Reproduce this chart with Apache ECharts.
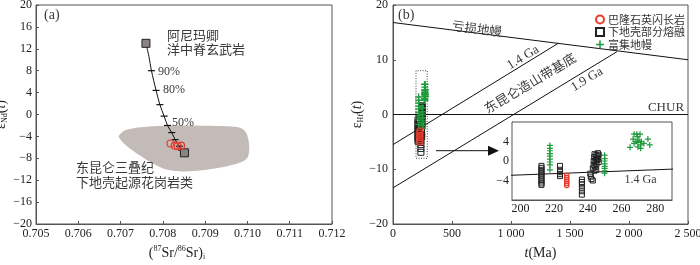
<!DOCTYPE html>
<html><head><meta charset="utf-8">
<script src="https://cdn.jsdelivr.net/npm/echarts@6/dist/echarts.min.js"></script>
<style>html,body{margin:0;padding:0;background:#fff}#c{width:700px;height:265px}</style>
</head><body><div id="c"></div>
<script>
// ---------- Panel (a): eNd(t) vs (87Sr/86Sr)i ----------
const blobSr = [0.70696,0.70714,0.70770,0.70848,0.70927,0.70975,0.70994,0.71002,0.71004,0.70998,0.70975,0.70919,0.70856,0.70817,0.70785,0.70746,0.70714,0.70699];
const blobNd = [-3.9,-2.8,-2.2,-2.0,-2.1,-2.3,-3.0,-4.5,-6.6,-8.1,-9.0,-9.9,-10.4,-10.2,-9.3,-7.5,-5.7,-4.5];
const endSr = [0.70760, 0.70851];
const endNd = [13.0, -7.0];
const mixSr = [0.70760,0.70767,0.70773,0.70784,0.70793,0.70803,0.70811,0.70821,0.70829,0.70839,0.70845,0.70851];
const mixNd = [13.0,10.6,8.0,4.4,1.8,-0.3,-2.0,-3.3,-4.6,-5.8,-6.5,-7.0];
const mixTick = [false,false,true,true,true,true,true,true,true,true,true,false];
const baSr = [0.70818,0.70828,0.70835,0.70843];
const baNd = [-5.3,-5.7,-5.8,-5.7];

// ---------- Panel (b): eHf(t) vs t(Ma) ----------
const dmT = [0,2500],   dmE = [16.8,10.0];
const churT = [0,2500], churE = [0,0];
const ga14T = [0,1400], ga14E = [-5.5,13.0];
const ga19T = [0,1900], ga19E = [-13.4,11.5];
const zoomT = [195,290], zoomE = [-8,8];
const insetTicks = [200,220,240,260,280];

// 巴隆石英闪长岩 (red circles)
const qdT = [227.5,227.5,227.5,227.5,227.5,227.5];
const qdE = [-3.0,-3.4,-3.8,-4.2,-4.6,-5.0];
// 下地壳部分熔融 (squares)
const lcT = [212.5,212.5,212.5,212.5,212.5,212.5,212.5,212.5,212.5,212.5,212.5,
             223.5,223.5,223.5,223.5,223.5,
             236.5,236.5,236.5,236.5,236.5,236.5,
             241.5,241.8,242.2,243,243,243.5,243.5,243.8,244,244.5,244.5,244.8,245,245.2,245.5,245.8,246,246.2,246.5,246.5,244,245];
const lcE = [-1.0,-1.4,-1.8,-2.2,-2.6,-3.0,-3.4,-3.8,-4.2,-4.6,-4.9,
             -1.0,-1.8,-2.3,-2.7,-3.1,
             -3.8,-4.3,-4.8,-5.5,-6.2,-6.9,
             -2.6,-3.2,-3.7,-4.0,-1.5,-0.8,0.0,0.8,-2.0,-1.2,-0.3,0.5,1.2,-0.6,0.2,1.0,1.6,0.4,-0.2,1.3,1.4,-1.8];
// 富集地幔 (green plus)
const emT = [217.5,217.5,217.5,217.5,217.5,217.5,217.5,217.5,217.5,
             250,250,250,250,250,250,250,250,
             265.1,267.5,269.1,270.4,268.5,269.8,271.4,273.3,275.7,276.8,267.5,269.8,271.8,269.5,271,266.9,271.4];
const emE = [3.2,2.6,2.1,1.5,1.0,0.4,-0.2,-0.8,-1.8,
             1.2,0.5,0.0,-0.6,-1.1,-1.5,-2.0,-2.5,
             2.8,5.5,5.5,4.3,4.0,2.9,2.6,3.6,4.5,3.3,3.6,3.8,4.0,5.0,5.5,4.5,3.3];

const zip = (a,b)=>a.map((v,i)=>[v,b[i]]);
const serif = 'Liberation Serif';
const cjk = 'Noto Sans CJK SC';
const plusPath = 'path://M4,0H6V4H10V6H6V10H4V6H0V4H4Z';
const minus = v => v < 0 ? '\u2212' + Math.abs(v) : String(v);

function axisBase(extra){
  return Object.assign({
    type:'value',
    axisLine:{show:true,onZero:false,lineStyle:{color:'#555',width:1}},
    axisTick:{show:true,inside:true,length:3,lineStyle:{color:'#555',width:1}},
    splitLine:{show:false},
    axisLabel:{color:'#222',fontFamily:serif,fontSize:12,margin:4}
  }, extra);
}
const richName = {
  g:{fontFamily:serif,fontSize:14,color:'#222',lineHeight:16},
  i:{fontFamily:serif,fontSize:14,fontStyle:'italic',color:'#222',lineHeight:16},
  sub:{fontFamily:serif,fontSize:8,color:'#222',lineHeight:9,verticalAlign:'bottom'},
  sup:{fontFamily:serif,fontSize:8,color:'#222',lineHeight:9,verticalAlign:'top'}
};

const chart = echarts.init(document.getElementById('c'), null, {renderer:'canvas'});

const txt = (x,y,text,fs,ff,rot,align) => ({type:'text',x:x,y:y,rotation:rot||0,z:100,silent:true,
  style:{text:text,fill:'#3a3a3a',fontFamily:ff,fontSize:fs,align:align||'left',verticalAlign:'middle'}});

const option = {
  animation:false,
  backgroundColor:'#fff',
  grid:[
    {left:36,top:5,width:296,height:219,show:true,borderColor:'#555',borderWidth:1,outerBoundsMode:'none'},
    {left:393,top:5,width:295,height:219,show:true,borderColor:'#555',borderWidth:1,outerBoundsMode:'none'},
    {left:512,top:122,width:160,height:78,show:true,borderColor:'#555',borderWidth:1,backgroundColor:'#fff',outerBoundsMode:'none',z:5}
  ],
  xAxis:[
    axisBase({gridIndex:0,min:0.705,max:0.712,interval:0.001,
      axisLabel:{color:'#222',fontFamily:serif,fontSize:12,margin:4,formatter:v=>v.toFixed(3)},
      name:'{g|(}{sup|87}{g|Sr/}{sup|86}{g|Sr)}{sub|i}',nameLocation:'middle',nameGap:21,nameTextStyle:{rich:richName,padding:[0,14,0,0]}}),
    axisBase({gridIndex:1,min:0,max:2500,interval:500,
      axisLabel:{color:'#222',fontFamily:serif,fontSize:12,margin:4,
        formatter:v=>v>=1000?(Math.floor(v/1000)+' '+String(v%1000).padStart(3,'0')):String(v)},
      name:'{i|t}{g|(Ma)}',nameLocation:'middle',nameGap:21,nameTextStyle:{rich:richName}}),
    axisBase({gridIndex:2,min:zoomT[0],max:zoomT[1],
      axisTick:{show:true,inside:true,length:3,lineStyle:{color:'#555'},customValues:insetTicks},
      axisLabel:{color:'#222',fontFamily:serif,fontSize:12,margin:3,customValues:insetTicks}})
  ],
  yAxis:[
    axisBase({gridIndex:0,min:-20,max:20,interval:4,
      axisLabel:{color:'#222',fontFamily:serif,fontSize:12,margin:4,formatter:minus},
      name:'{g|ε}{sub|Nd}{g|(}{i|t}{g|)}',nameLocation:'middle',nameGap:19,nameTextStyle:{rich:richName}}),
    axisBase({gridIndex:1,min:-20,max:20,interval:10,
      axisLabel:{color:'#222',fontFamily:serif,fontSize:12,margin:5,formatter:minus},
      name:'{g|ε}{sub|Hf}{g|(}{i|t}{g|)}',nameLocation:'middle',nameGap:22,nameTextStyle:{rich:richName}}),
    axisBase({gridIndex:2,min:zoomE[0],max:zoomE[1],interval:4,
      axisLabel:{color:'#222',fontFamily:serif,fontSize:12,margin:3,
        formatter:v=>(v===zoomE[0]||v===zoomE[1])?'':minus(v)}})
  ],
  legend:{
    orient:'vertical',left:590,top:9,itemWidth:8,itemHeight:8,itemGap:1.5,selectedMode:false,
    data:['巴隆石英闪长岩','下地壳部分熔融','富集地幔'],
    textStyle:{fontFamily:cjk,fontSize:11,color:'#333',padding:[0,0,0,-1]}
  },
  series:[
    // panel (a)
    {type:'custom',xAxisIndex:0,yAxisIndex:0,silent:true,z:1,data:[[0.708,0]],
      renderItem:(p,api)=>({type:'polygon',
        shape:{points:blobSr.map((x,i)=>api.coord([x,blobNd[i]])),smooth:0.35},
        style:{fill:'#c3bbb7',stroke:'none'}})},
    {type:'line',xAxisIndex:0,yAxisIndex:0,smooth:0.3,silent:true,z:3,
      data:zip(mixSr,mixNd).map((d,i)=>({value:d,symbol:mixTick[i]?'rect':'none'})),
      symbolSize:[7,1.2],showAllSymbol:true,
      lineStyle:{color:'#111',width:1},itemStyle:{color:'#111'}},
    {type:'scatter',xAxisIndex:0,yAxisIndex:0,symbol:'rect',symbolSize:8,z:4,silent:true,
      data:zip(endSr,endNd),itemStyle:{color:'#8c8482',borderColor:'#222',borderWidth:1,opacity:1}},
    {type:'scatter',xAxisIndex:0,yAxisIndex:0,symbol:'circle',symbolSize:7,z:5,silent:true,
      data:zip(baSr,baNd),itemStyle:{color:'rgba(0,0,0,0)',borderColor:'#e8392b',borderWidth:1.2,opacity:1}},
    // panel (b) reference lines
    {type:'line',xAxisIndex:1,yAxisIndex:1,data:zip(dmT,dmE),symbol:'none',silent:true,lineStyle:{color:'#111',width:1}},
    {type:'line',xAxisIndex:1,yAxisIndex:1,data:zip(churT,churE),symbol:'none',silent:true,lineStyle:{color:'#111',width:1}},
    {type:'line',xAxisIndex:1,yAxisIndex:1,data:zip(ga14T,ga14E),symbol:'none',silent:true,lineStyle:{color:'#111',width:1}},
    {type:'line',xAxisIndex:1,yAxisIndex:1,data:zip(ga19T,ga19E),symbol:'none',silent:true,lineStyle:{color:'#111',width:1},
      markArea:{silent:true,itemStyle:{color:'rgba(0,0,0,0)',borderColor:'#444',borderWidth:1,borderType:[1,1.5]},
        data:[[{coord:[zoomT[0],zoomE[0]]},{coord:[zoomT[1],zoomE[1]]}]]}},
    // panel (b) main data
    {name:'下地壳部分熔融',type:'scatter',xAxisIndex:1,yAxisIndex:1,symbol:'rect',symbolSize:6,z:3,silent:true,
      data:zip(lcT,lcE),itemStyle:{color:'rgba(0,0,0,0)',borderColor:'#222',borderWidth:1,opacity:1}},
    {name:'富集地幔',type:'scatter',xAxisIndex:1,yAxisIndex:1,symbol:plusPath,symbolSize:7,z:4,silent:true,
      data:zip(emT,emE),itemStyle:{color:'#1f9a3c',opacity:1}},
    {name:'巴隆石英闪长岩',type:'scatter',xAxisIndex:1,yAxisIndex:1,symbol:'circle',symbolSize:6,z:5,silent:true,
      data:zip(qdT,qdE),itemStyle:{color:'rgba(0,0,0,0)',borderColor:'#e8392b',borderWidth:1.2,opacity:1}},
    // inset
    {type:'line',xAxisIndex:2,yAxisIndex:2,data:zip(ga14T,ga14E),symbol:'none',silent:true,z:6,clip:true,lineStyle:{color:'#111',width:1}},
    {name:'下地壳部分熔融',type:'scatter',xAxisIndex:2,yAxisIndex:2,symbol:'rect',symbolSize:5,z:7,silent:true,
      data:zip(lcT,lcE),itemStyle:{color:'rgba(0,0,0,0)',borderColor:'#222',borderWidth:1,opacity:1}},
    {name:'富集地幔',type:'scatter',xAxisIndex:2,yAxisIndex:2,symbol:plusPath,symbolSize:6,z:7,silent:true,
      data:zip(emT,emE),itemStyle:{color:'#1f9a3c',opacity:1}},
    {name:'巴隆石英闪长岩',type:'scatter',xAxisIndex:2,yAxisIndex:2,symbol:'circle',symbolSize:4.5,z:8,silent:true,
      data:zip(qdT,qdE),itemStyle:{color:'rgba(0,0,0,0)',borderColor:'#e8392b',borderWidth:1.1,opacity:1}}
  ],
  graphic:[
    txt(44,15,'(a)',14,serif),
    txt(167,35,'阿尼玛卿',13,cjk),
    txt(167,49,'洋中脊玄武岩',13,cjk),
    txt(158,71.5,'90%',12,serif),
    txt(163,90,'80%',12,serif),
    txt(172,123,'50%',12,serif),
    txt(76,167,'东昆仑三叠纪',13,cjk),
    txt(76,182.5,'下地壳起源花岗岩类',13,cjk),
    txt(398,15,'(b)',14,serif),
    txt(477,28.5,'亏损地幔',12.5,cjk,-0.126,'center'),
    txt(523,57.5,'1.4 Ga',13,serif,0.55,'center'),
    txt(530,83,'东昆仑造山带基底',13,cjk,0.535,'center'),
    txt(587,79.5,'1.9 Ga',13,serif,0.545,'center'),
    txt(666,107.5,'CHUR',13,serif,0,'center'),
    txt(640.5,180,'1.4 Ga',12,serif,0,'center'),
    {type:'line',z:100,silent:true,shape:{x1:436,y1:150.7,x2:489,y2:150.7},style:{stroke:'#111',lineWidth:1}},
    {type:'polygon',z:100,silent:true,shape:{points:[[488,145.7],[499,150.7],[488,155.7]]},style:{fill:'#111'}}
  ]
};
chart.setOption(option);
</script></body></html>
